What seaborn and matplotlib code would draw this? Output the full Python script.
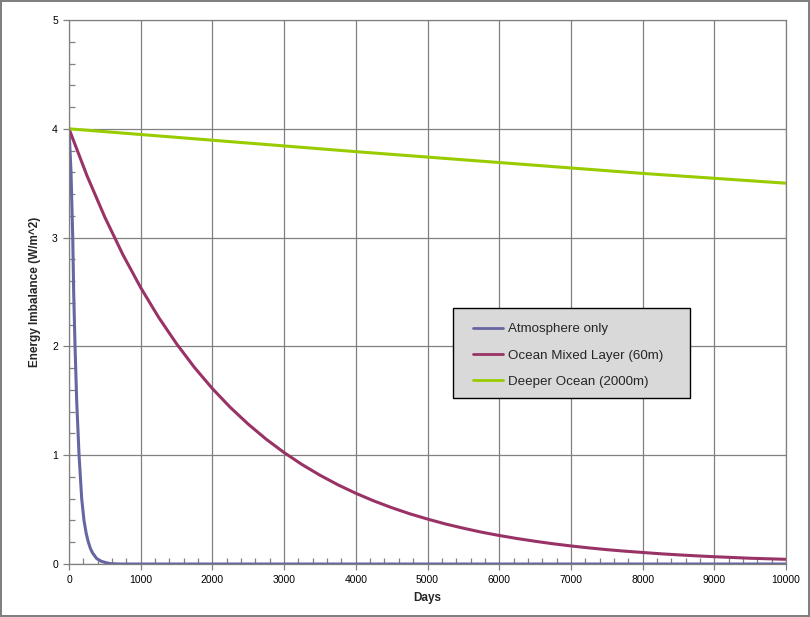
import matplotlib
matplotlib.use("Agg")
import matplotlib.pyplot as plt
import seaborn as sns
import pandas as pd
from matplotlib.patches import Rectangle
from matplotlib.ticker import MultipleLocator

# values
atmos_days = [0, 28, 52, 65, 84, 107, 140, 177, 209, 240, 270, 300, 330, 386, 450, 500, 570, 700, 1000, 2000, 5000, 10000]
atmos_vals = [4.0, 3.6, 3.0, 2.5, 2.0, 1.5, 1.0, 0.6, 0.4, 0.28, 0.2, 0.14, 0.1, 0.05, 0.025, 0.015, 0.004, 0.0, 0.0, 0.0, 0.0, 0.0]

mixed_days = [0, 250, 500, 750, 1000, 1250, 1500, 1750, 2000, 2250, 2500, 2750,
              3000, 3250, 3500, 3750, 4000, 4250, 4500, 4750, 5000, 5250, 5500,
              5750, 6000, 6250, 6500, 6750, 7000, 7250, 7500, 7750, 8000, 8250,
              8500, 8750, 9000, 9250, 9500, 9750, 10000]
mixed_vals = [4.0, 3.570, 3.187, 2.845, 2.540, 2.267, 2.024, 1.806, 1.612, 1.439, 1.285, 1.147,
              1.024, 0.914, 0.816, 0.728, 0.650, 0.580, 0.518, 0.462, 0.413, 0.368, 0.329,
              0.293, 0.262, 0.234, 0.209, 0.186, 0.166, 0.148, 0.132, 0.118, 0.106, 0.094,
              0.084, 0.075, 0.067, 0.060, 0.053, 0.048, 0.043]

deep_days = [0, 2000, 4000, 6000, 8000, 10000]
deep_vals = [4.0, 3.895, 3.79, 3.69, 3.59, 3.5]

series = ["Atmosphere only", "Ocean Mixed Layer (60m)", "Deeper Ocean (2000m)"]
colors = ["#6666a3", "#993366", "#99cc00"]

df = pd.concat([
    pd.DataFrame({"Days": atmos_days, "value": atmos_vals, "series": series[0]}),
    pd.DataFrame({"Days": mixed_days, "value": mixed_vals, "series": series[1]}),
    pd.DataFrame({"Days": deep_days, "value": deep_vals, "series": series[2]}),
])

sns.set_style("white")
plt.rcParams["font.family"] = ["Liberation Sans", "DejaVu Sans"]

fig = plt.figure(figsize=(8.1, 6.17), dpi=100)
fig.patch.set_edgecolor("#808080")
fig.patch.set_linewidth(1.5)
ax = fig.add_axes([0.0852, 0.0859, 0.8852, 0.8817])

sns.lineplot(data=df, x="Days", y="value", hue="series", hue_order=series,
             palette=colors, linewidth=2.2, ax=ax, sort=False)

ax.set_xlim(0, 10000)
ax.set_ylim(0, 5)
ax.xaxis.set_major_locator(MultipleLocator(1000))
ax.xaxis.set_minor_locator(MultipleLocator(200))
ax.yaxis.set_major_locator(MultipleLocator(1))
ax.yaxis.set_minor_locator(MultipleLocator(0.2))
ax.grid(True, which="major", color="#808080", linewidth=0.9)
ax.set_axisbelow(True)
for s in ax.spines.values():
    s.set_color("#808080")
    s.set_linewidth(0.9)

ax.tick_params(which="both", bottom=True, left=True, top=False, right=False)
ax.tick_params(which="major", direction="out", length=4, width=0.9, color="#808080",
               labelsize=7.5, pad=4, labelcolor="black")
ax.tick_params(which="minor", direction="in", length=4, width=0.9, color="#808080")

ax.set_xlabel("Days", fontsize=8.5, fontweight="bold", labelpad=5)
ax.set_ylabel("Energy Imbalance (W/m^2)", fontsize=8.5, fontweight="bold", labelpad=8)

# legend box (grey panel with black border)
ax.add_patch(Rectangle((0.5356, 0.305), 0.3305, 0.1654, transform=ax.transAxes,
                       facecolor="#d9d9d9", edgecolor="black", linewidth=1.0, zorder=4))
leg = ax.legend(loc="upper left", bbox_to_anchor=(0.5635, 0.4431), borderaxespad=0,
                frameon=False, fontsize=9.6, handlelength=2.25, labelspacing=1.05,
                borderpad=0, handletextpad=0.35, title=None)
leg.set_zorder(5)
for line in leg.get_lines():
    line.set_linewidth(2.0)

fig.savefig("out.png", dpi=100)
